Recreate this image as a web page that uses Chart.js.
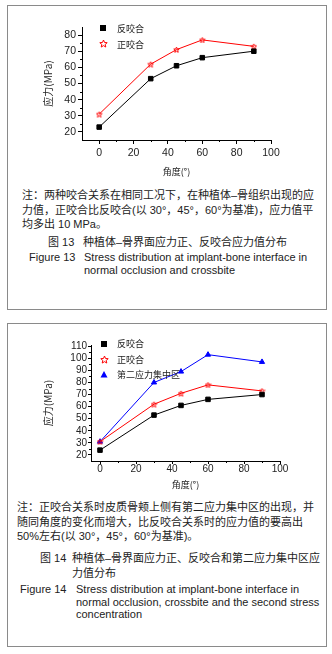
<!DOCTYPE html>
<html>
<head>
<meta charset="utf-8">
<title>图13 / 图14 应力值分布</title>
<script src="https://cdn.jsdelivr.net/npm/chart.js"></script>
<style>
  body { margin: 0; width: 332px; height: 654px; background: #fff; position: relative; overflow: hidden;
         font-family: "Liberation Sans", "Noto Sans CJK SC", sans-serif; color: #222; }
  .panel { position: absolute; left: 7px; width: 320px; border: 1px solid #8a8a8a; box-sizing: border-box; }
  #p1 { top: 5px; height: 305px; }
  #p2 { top: 323px; height: 324px; }
  .chartbox { position: absolute; left: 8px; width: 316px; }
  #c1box { top: 6px; height: 175px; }
  #c2box { top: 325px; height: 168px; }
  .t { position: absolute; white-space: nowrap; font-size: 11px; line-height: 14.5px; }
  .cap { font-size: 11px; line-height: 12.5px; }
</style>
</head>
<body>
<div class="panel" id="p1"></div>
<div class="panel" id="p2"></div>

<div class="chartbox" id="c1box"><canvas id="chart1"></canvas></div>
<div class="chartbox" id="c2box"><canvas id="chart2"></canvas></div>

<!-- figure 13 text -->
<div class="t" style="left:22px; top:188px;">注：两种咬合关系在相同工况下，在种植体–骨组织出现的应<br>力值，正咬合比反咬合(以 30°，45°，60°为基准)，应力值平<br>均多出 10 MPa。</div>
<div class="t" style="left:48px; top:235px;">图 13</div>
<div class="t" style="left:83px; top:235px;">种植体–骨界面应力正、反咬合应力值分布</div>
<div class="t cap" style="left:29px; top:251px;">Figure 13</div>
<div class="t cap" style="left:84px; top:251px;">Stress distribution at implant-bone interface in<br>normal occlusion and crossbite</div>

<!-- figure 14 text -->
<div class="t" style="left:17px; top:500px;">注：正咬合关系时皮质骨颊上侧有第二应力集中区的出现，并<br>随同角度的变化而增大，比反咬合关系时的应力值的要高出<br>50%左右(以 30°，45°，60°为基准)。</div>
<div class="t" style="left:40px; top:551px;">图 14</div>
<div class="t" style="left:72px; top:551px;">种植体–骨界面应力正、反咬合和第二应力集中区应<br>力值分布</div>
<div class="t cap" style="left:20px; top:583px;">Figure 14</div>
<div class="t cap" style="left:76px; top:583px;">Stress distribution at implant-bone interface in<br>normal occlusion, crossbite and the second stress<br>concentration</div>

<script>
// angles (°) and stress values (MPa)
const angles = [0, 30, 45, 60, 90];

// figure 13
const fig13Cross = [23, 53, 61, 66, 70];     // 反咬合
const fig13Normal = [31, 62, 71, 77, 73];    // 正咬合

// figure 14
const fig14Cross = [24, 53, 61, 66, 70];     // 反咬合
const fig14Normal = [31, 62, 71, 78, 73];    // 正咬合
const fig14Second = [31, 80, 89, 103, 97];   // 第二应力集中区

const xTickValues = [0, 20, 40, 60, 80, 100];
const xMinorValues = [10, 30, 50, 70, 90];
const y13TickValues = [20, 30, 40, 50, 60, 70, 80];
const y13MinorValues = [25, 35, 45, 55, 65, 75];
const y14TickValues = [20, 30, 40, 50, 60, 70, 80, 90, 100, 110];
const y14MinorValues = [25, 35, 45, 55, 65, 75, 85, 95, 105];

const pts = arr => angles.map((a, i) => ({ x: a, y: arr[i] }));

// hollow red star used as point style
function starImage(size) {
  const c = document.createElement('canvas');
  c.width = size; c.height = size;
  const g = c.getContext('2d');
  const cx = size / 2, cy = size / 2 + 0.4, R = size / 2 - 0.6, r = R * 0.45;
  g.beginPath();
  for (let i = 0; i < 10; i++) {
    const rad = i % 2 ? r : R;
    const a = -Math.PI / 2 + i * Math.PI / 5;
    g.lineTo(cx + rad * Math.cos(a), cy + rad * Math.sin(a));
  }
  g.closePath();
  g.strokeStyle = '#ff0000';
  g.lineWidth = 1;
  g.stroke();
  return c;
}
const starSmall = starImage(7);
const starLegend = starImage(9);

function drawMark(ctx, kind, x, y) {
  if (kind === 'rect') {
    ctx.fillStyle = '#000';
    ctx.fillRect(Math.round(x - 3), Math.round(y - 3), 6, 6);
  } else if (kind === 'star') {
    ctx.drawImage(starLegend, Math.round(x - 4.5), Math.round(y - 4.5));
  } else {
    ctx.fillStyle = '#0000ff';
    ctx.beginPath();
    ctx.moveTo(x, y - 3.5);
    ctx.lineTo(x + 3.5, y + 3);
    ctx.lineTo(x - 3.5, y + 3);
    ctx.closePath();
    ctx.fill();
  }
}

// legend drawn inside the plot area
const innerLegend = {
  id: 'innerLegend',
  afterDatasetsDraw(chart, args, opts) {
    const { ctx, chartArea } = chart;
    ctx.save();
    ctx.font = '9px "Noto Sans CJK SC", sans-serif';
    ctx.textBaseline = 'middle';
    chart.data.datasets.forEach((ds, i) => {
      const x = chartArea.left + opts.dx;
      const y = chartArea.top + opts.dy + i * opts.gap;
      drawMark(ctx, ds.mark, x, y);
      ctx.fillStyle = '#222';
      ctx.fillText(ds.label, x + opts.textGap, y + 0.5);
    });
    ctx.restore();
  }
};

// small outward minor ticks on both axes
const minorTicks = {
  id: 'minorTicks',
  afterDraw(chart, args, opts) {
    const { ctx } = chart;
    const xs = chart.scales.x, ys = chart.scales.y;
    ctx.save();
    ctx.strokeStyle = '#000';
    ctx.lineWidth = 1;
    ctx.beginPath();
    opts.x.forEach(v => {
      const px = Math.round(xs.getPixelForValue(v)) + 0.5;
      ctx.moveTo(px, xs.top);
      ctx.lineTo(px, xs.top + 2);
    });
    opts.y.forEach(v => {
      const py = Math.round(ys.getPixelForValue(v)) + 0.5;
      ctx.moveTo(ys.right, py);
      ctx.lineTo(ys.right - 2, py);
    });
    ctx.stroke();
    ctx.restore();
  }
};

function makeChart(id, cfg) {
  const lineDs = (label, data, color, style, radius, mark) => ({
    label, data, mark,
    borderColor: color, backgroundColor: color,
    borderWidth: 1, tension: 0,
    pointStyle: style, pointRadius: radius,
    pointBackgroundColor: color, pointBorderColor: color, pointBorderWidth: 1
  });
  return new Chart(document.getElementById(id), {
    type: 'line',
    data: { datasets: cfg.series.map(s => lineDs(...s)) },
    options: {
      responsive: true,
      maintainAspectRatio: false,
      animation: false,
      events: [],
      layout: { padding: cfg.padding },
      plugins: {
        legend: { display: false },
        tooltip: { enabled: false },
        innerLegend: cfg.legend,
        minorTicks: { x: xMinorValues, y: cfg.yMinor }
      },
      scales: {
        x: {
          type: 'linear', min: cfg.xMin, max: 100,
          afterFit: s => { s.height = cfg.xHeight; },
          afterBuildTicks: s => { s.ticks = xTickValues.map(v => ({ value: v })); },
          border: { display: true, color: '#000', width: 1 },
          grid: { drawOnChartArea: false, drawTicks: true, tickLength: cfg.tickLen, color: '#000' },
          ticks: { color: '#222', padding: cfg.xPad, autoSkip: false, maxRotation: 0,
                   font: { family: '"Liberation Sans", Arial', size: cfg.tickFont } },
          title: { display: true, text: '角度(°)', color: '#222',
                   font: { family: '"Noto Sans CJK SC", "Liberation Sans"', size: 9 },
                   padding: { top: 0, bottom: cfg.xTitlePad } }
        },
        y: {
          min: cfg.yMin, max: cfg.yMax,
          afterFit: s => { s.width = cfg.yWidth; },
          afterBuildTicks: s => { s.ticks = cfg.yTicks.map(v => ({ value: v })); },
          border: { display: true, color: '#000', width: 1 },
          grid: { drawOnChartArea: false, drawTicks: true, tickLength: cfg.tickLen, color: '#000' },
          ticks: { color: '#222', padding: cfg.yPad, autoSkip: false,
                   font: { family: '"Liberation Sans", Arial', size: cfg.tickFont } },
          title: { display: true, text: '应力(MPa)', color: '#222',
                   font: { family: '"Noto Sans CJK SC", "Liberation Sans"', size: 10 },
                   padding: { top: 34, bottom: 0 } }
        }
      }
    },
    plugins: [innerLegend, minorTicks]
  });
}

makeChart('chart1', {
  series: [
    ['反咬合', pts(fig13Cross), '#000000', 'rect', 3.2, 'rect'],
    ['正咬合', pts(fig13Normal), '#ff0000', starSmall, 3, 'star']
  ],
  padding: { top: 21, right: 53, left: 0, bottom: 0 },
  xMin: -10, yMin: 15, yMax: 85,
  yTicks: y13TickValues, yMinor: y13MinorValues,
  xHeight: 41, yWidth: 74,
  tickLen: 4, xPad: 3, yPad: 2, tickFont: 10.5, xTitlePad: 4,
  legend: { dx: 21, dy: 1, gap: 15.6, textGap: 14 }
});

makeChart('chart2', {
  series: [
    ['反咬合', pts(fig14Cross), '#000000', 'rect', 3.2, 'rect'],
    ['正咬合', pts(fig14Normal), '#ff0000', starSmall, 3, 'star'],
    ['第二应力集中区', pts(fig14Second), '#0000ff', 'triangle', 3, 'tri']
  ],
  padding: { top: 20, right: 44, left: 0, bottom: 0 },
  xMin: -5, yMin: 15, yMax: 111,
  yTicks: y14TickValues, yMinor: y14MinorValues,
  xHeight: 32, yWidth: 83,
  tickLen: 3, xPad: -1, yPad: 1, tickFont: 10, xTitlePad: 3,
  legend: { dx: 13, dy: -1.5, gap: 15.5, textGap: 13 }
});
</script>
</body>
</html>
